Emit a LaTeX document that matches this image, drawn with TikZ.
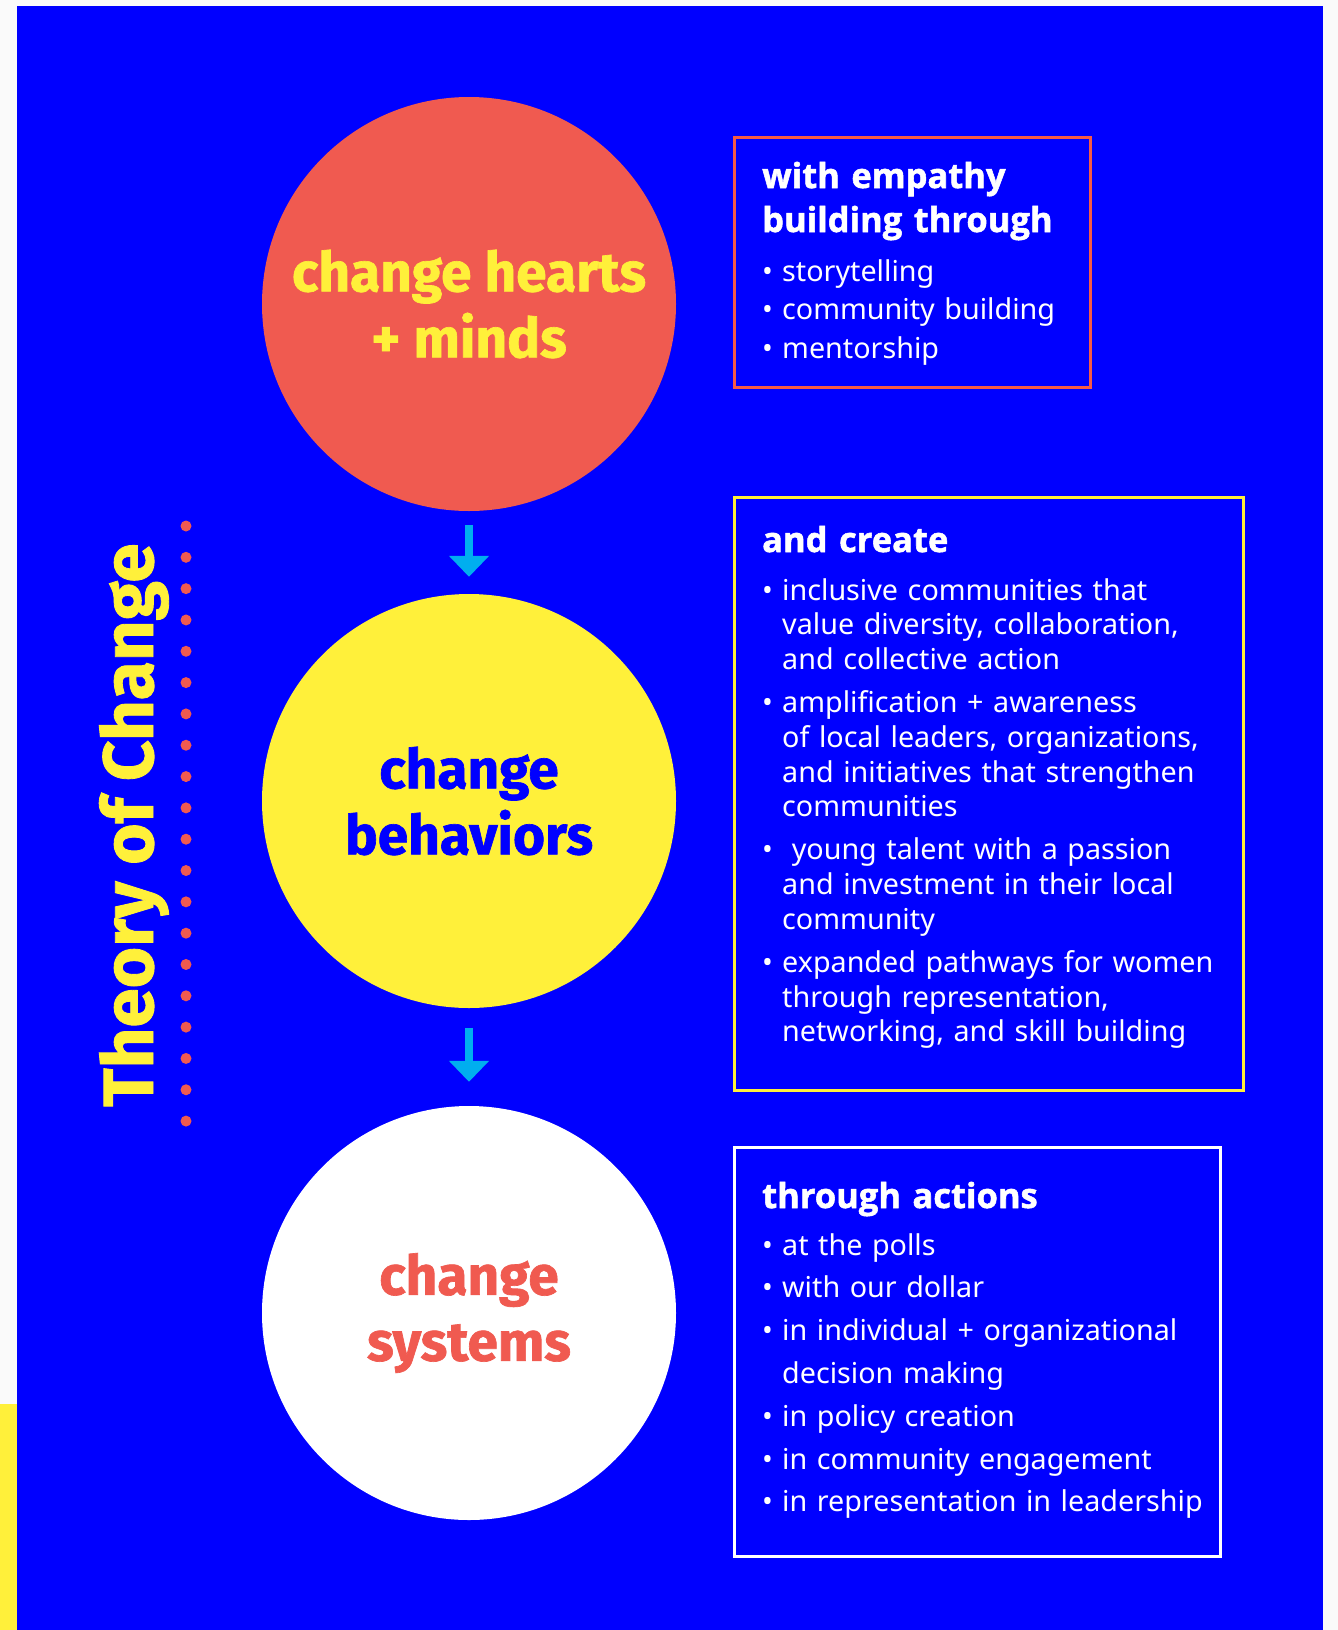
\documentclass[tikz,border=0pt]{standalone}
\usepackage{fontspec}
\setmainfont{Noto Sans}
\newfontfamily\titlefam{Fira Sans}[BoldFeatures={FakeBold=1.2}]
\newfontfamily\headfam{Open Sans}[BoldFeatures={FakeBold=1.5}]
\usetikzlibrary{arrows.meta}
\definecolor{pageblue}{HTML}{0000FF}
\definecolor{heartred}{HTML}{F05A50}
\definecolor{sunyellow}{HTML}{FFF03A}
\definecolor{arrowcyan}{HTML}{00AEEF}
\definecolor{offwhite}{HTML}{FAFAFA}
\definecolor{boxred}{HTML}{F55A45}
\newcommand{\bul}{\makebox[20pt][l]{•}}
\newcommand{\ind}{\hspace*{20pt}}

\begin{document}
\begin{tikzpicture}[x=1pt,y=-1pt,
  disc/.style={circle,inner sep=0pt,minimum size=414pt,align=center,
    font=\titlefam\bfseries\fontsize{55}{66}\selectfont},
  panel/.style={draw,line width=2.5pt,anchor=north west,inner sep=0pt},
  boxhead/.style={anchor=base west,inner sep=0pt,text=white,text width=440pt,
    align=left,font=\headfam\bfseries\fontsize{34.5}{44}\selectfont},
  boxlist/.style={anchor=base west,inner sep=0pt,text=white,text width=480pt,
    align=left,font=\fontsize{28.7}{38.5}\selectfont},
  flowarrow/.style={draw=arrowcyan,line width=8pt,-{Triangle[length=21pt,width=39pt]}}]
\useasboundingbox (0,0) rectangle (1338,1630);
\fill[offwhite] (0,0) rectangle (1338,1630);
\fill[pageblue] (17,6) rectangle (1323,1630);
\fill[sunyellow] (0,1404) rectangle (17,1630);

% circles
\node[disc,fill=heartred,text=sunyellow] (hearts) at (469,304) {change hearts\\+ minds};
\node[disc,fill=sunyellow,text=pageblue] (behaviors) at (469,801) {change\\behaviors};
\node[disc,fill=white,text=heartred] (systems) at (469,1313) {change\\systems};
\draw[flowarrow,shorten <=14pt,shorten >=17pt] (hearts) -- (behaviors);
\draw[flowarrow,shorten <=20pt,shorten >=24pt] (behaviors) -- (systems);

% side title
\node[rotate=90,anchor=base west,inner sep=0pt,text=sunyellow,
  font=\titlefam\bfseries\fontsize{71}{80}\selectfont] (toc) at (153,1107) {Theory of Change};
\foreach \k in {0,...,19}
  \fill[heartred] (186,526+31.32*\k) circle (5.5);

% boxes
\node[panel,draw=boxred,minimum width=356pt,minimum height=250pt] (empathy) at (733,136) {};
\node[boxhead] (empathyhead) at (762,188) {with empathy\\building through};
\node[boxlist] (empathylist) at (762,281) {\bul storytelling\\\bul community building\\\bul mentorship};

\node[panel,draw=sunyellow,minimum width=509pt,minimum height=593pt] (create) at (733,496) {};
\node[boxhead] (createhead) at (762,552) {and create};
\node[boxlist,font=\fontsize{28.7}{34.7}\selectfont] (createlist) at (762,600)
  {\bul inclusive communities that\\\ind value diversity, collaboration,\\\ind and collective action\\[8.5pt]
   \bul amplification + awareness\\\ind of local leaders, organizations,\\\ind and initiatives that strengthen\\\ind communities\\[8.5pt]
   \bul\ young talent with a passion\\\ind and investment in their local\\\ind community\\[8.5pt]
   \bul expanded pathways for women\\\ind through representation,\\\ind networking, and skill building};

\node[panel,draw=white,minimum width=486pt,minimum height=409pt] (actions) at (733,1146) {};
\node[boxhead] (actionshead) at (762,1208) {through actions};
\node[boxlist,font=\fontsize{28.7}{42.8}\selectfont] (actionslist) at (762,1255)
  {\bul at the polls\\\bul with our dollar\\\bul in individual + organizational\\\ind decision making\\
   \bul in policy creation\\\bul in community engagement\\\bul in representation in leadership};
\end{tikzpicture}
\end{document}
